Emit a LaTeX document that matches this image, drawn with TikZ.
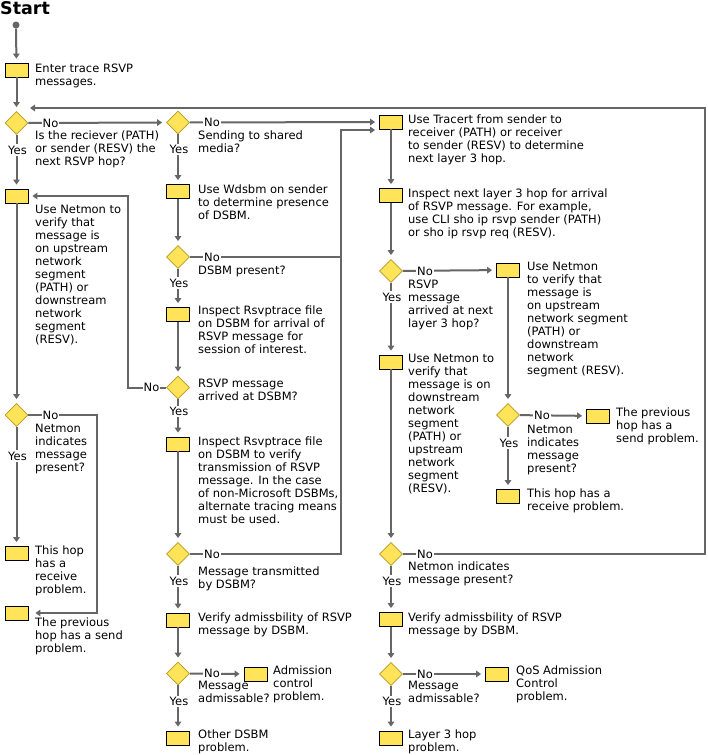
\documentclass[tikz,border=0pt]{standalone}
\usepackage{fontspec}
\setmainfont{DejaVu Sans}
\usetikzlibrary{shapes.geometric,arrows.meta}
\definecolor{boxy}{HTML}{FFE45A}
\definecolor{dborder}{HTML}{B89A20}
\definecolor{linec}{HTML}{666666}
\begin{document}
\begin{tikzpicture}[x=1pt,y=-1pt,
  box/.style={draw=black, line width=0.8pt, fill=boxy, minimum width=23pt, minimum height=14pt, inner sep=0pt},
  dia/.style={diamond, draw=dborder, line width=0.8pt, fill=boxy, minimum width=23pt, minimum height=23pt, inner sep=0pt},
  txt/.style={anchor=north west, yshift=9pt, align=left, inner sep=0pt, font=\fontsize{11.5}{13}\selectfont, execute at begin node={\rule{0pt}{9pt}}},
  lab/.style={fill=white, inner xsep=1pt, inner ysep=1.5pt, font=\fontsize{11.5}{13}\selectfont},
  conn/.style={draw=linec, line width=2pt},
  arr/.style={conn, -{Triangle[length=5pt,width=6.5pt]}, shorten >=4pt},
  dot/.style={circle, fill=linec, minimum size=7pt, inner sep=0pt},
]
\fill[white] (0,0) rectangle (708,755);
\path[use as bounding box] (0,0) rectangle (708,755);

\node[anchor=base west, inner sep=0pt, font=\bfseries\fontsize{17.5}{19}\selectfont] (title) at (0,14) {Start};
\node[dot] (start) at (16,25) {};

% column 1
\node[box] (b1) at (16.5,70) {};
\node[dia] (d1) at (16.5,123) {};
\node[box] (b2) at (16.5,196) {};
\node[dia] (d7) at (16.5,415) {};
\node[box] (b3) at (16.5,553.5) {};
\node[box] (b4) at (16.5,613) {};
% column 2
\node[dia] (d2) at (178,122.5) {};
\node[box] (b5) at (178,191.5) {};
\node[dia] (d3) at (178,257) {};
\node[box] (b6) at (178,314.5) {};
\node[dia] (d4) at (178,387.5) {};
\node[box] (b7) at (178,444) {};
\node[dia] (d5) at (178,554) {};
\node[box] (b8) at (178,620) {};
\node[dia] (d6) at (178,673.5) {};
\node[box] (b9) at (255.5,674) {};
\node[box] (b10) at (178,738) {};
% column 3
\node[box] (b11) at (391,122) {};
\node[box] (b12) at (391,195.5) {};
\node[dia] (d8) at (391,271) {};
\node[box] (b13) at (391,362) {};
\node[dia] (d9) at (391,554) {};
\node[box] (b14) at (391,619.5) {};
\node[dia] (d10) at (391,674) {};
\node[box] (b15) at (497,674) {};
\node[box] (b16) at (391,738) {};
% column 4
\node[box] (b17) at (508,270) {};
\node[dia] (d11) at (508,415) {};
\node[box] (b18) at (598,416) {};
\node[box] (b19) at (508,496.5) {};

% texts (coordinates = baseline of first line)
\node[txt] (tb1) at (35,73) {Enter trace RSVP\\messages.};
\node[txt] (td1) at (35,140) {Is the reciever (PATH)\\or sender (RESV) the\\next RSVP hop?};
\node[txt] (tb2) at (35,214) {Use Netmon to\\verify that\\message is\\on upstream\\network\\segment\\(PATH) or\\downstream\\network\\segment\\(RESV).};
\node[txt] (td7) at (35,433) {Netmon\\indicates\\message\\present?};
\node[txt] (tb3) at (35,555) {This hop\\has a\\receive\\problem.};
\node[txt] (tb4) at (35,627) {The previous\\hop has a send\\problem.};

\node[txt] (td2) at (198,140) {Sending to shared\\media?};
\node[txt] (tb5) at (198,193.5) {Use Wdsbm on sender\\to determine presence\\of DSBM.};
\node[txt] (td3) at (198,274) {DSBM present?};
\node[txt] (tb6) at (198,315) {Inspect Rsvptrace file\\on DSBM for arrival of\\RSVP message for\\session of interest.};
\node[txt] (td4) at (198,387.5) {RSVP message\\arrived at DSBM?};
\node[txt] (tb7) at (198,446) {Inspect Rsvptrace file\\on DSBM to verify\\transmission of RSVP\\message. In the case\\of non-Microsoft DSBMs,\\alternate tracing means\\must be used.};
\node[txt] (td5) at (198,575.5) {Message transmitted\\by DSBM?};
\node[txt] (tb8) at (198,621.7) {Verify admissbility of RSVP\\message by DSBM.};
\node[txt] (td6) at (198,690) {Message\\admissable?};
\node[txt] (tb9) at (273,675) {Admission\\control\\problem.};
\node[txt] (tb10) at (198,739) {Other DSBM\\problem.};

\node[txt] (tb11) at (408,124) {Use Tracert from sender to\\receiver (PATH) or receiver\\to sender (RESV) to determine\\next layer 3 hop.};
\node[txt] (tb12) at (408,197.3) {Inspect next layer 3 hop for arrival\\of RSVP message. For example,\\use CLI sho ip rsvp sender (PATH)\\or sho ip rsvp req (RESV).};
\node[txt] (td8) at (408,288.3) {RSVP\\message\\arrived at next\\layer 3 hop?};
\node[txt] (tb13) at (408,363) {Use Netmon to\\verify that\\message is on\\downstream\\network\\segment\\(PATH) or\\upstream\\network\\segment\\(RESV).};
\node[txt] (td9) at (408,571) {Netmon indicates\\message present?};
\node[txt] (tb14) at (408,621.7) {Verify admissbility of RSVP\\message by DSBM.};
\node[txt] (td10) at (408,690) {Message\\admissable?};
\node[txt] (tb15) at (516,675) {QoS Admission\\Control\\problem.};
\node[txt] (tb16) at (408,739) {Layer 3 hop\\problem.};

\node[txt] (tb17) at (527,271) {Use Netmon\\to verify that\\message is\\on upstream\\network segment\\(PATH) or\\downstream\\network\\segment (RESV).};
\node[txt] (td11) at (527,434) {Netmon\\indicates\\message\\present?};
\node[txt] (tb18) at (616,416.7) {The previous\\hop has a\\send problem.};
\node[txt] (tb19) at (527,497.3) {This hop has a\\receive problem.};

% junction coordinates
\coordinate (j1) at (341,554);
\coordinate (j2) at (341,130);
\coordinate (j3) at (341,257);
\coordinate (k1) at (128,387.5);
\coordinate (k2) at (97,415);
\coordinate (r1) at (705,554);
\coordinate (r2) at (705,108);
\coordinate (loopend) at (30,108);

% connectors
\draw[arr] (start) -- (b1);
\draw[arr] (b1) -- (d1);
\draw[arr] (d1) -- (d2);
\draw[arr] (d1) -- (b2);
\draw[arr] (b2) -- (d7);
\draw[arr] (d7) -- (b3);
\draw[arr, shorten >=7pt] (d7.east) -- (k2) |- (b4.east);

\draw[arr] (d2) -- (b11);
\draw[arr] (d2) -- (b5);
\draw[arr] (b5) -- (d3);
\draw[conn] (d3.east) -- (j3);
\draw[arr] (d3) -- (b6);
\draw[arr] (b6) -- (d4);
\draw[arr] (d4.west) -- (k1) |- (b2.east);
\draw[arr] (d4) -- (b7);
\draw[arr] (b7) -- (d5);
\draw[arr] (d5.east) -- (j1) -- (j2) -- (b11.west |- j2);
\draw[arr] (d5) -- (b8);
\draw[arr] (b8) -- (d6);
\draw[arr] (d6) -- (b9);
\draw[arr] (d6) -- (b10);

\draw[arr] (b11) -- (b12);
\draw[arr] (b12) -- (d8);
\draw[arr] (d8) -- (b17);
\draw[arr] (d8) -- (b13);
\draw[arr] (b13) -- (d9);
\draw[arr, shorten >=0pt] (d9.east) -- (r1) -- (r2) -- (loopend);
\draw[arr] (d9) -- (b14);
\draw[arr] (b14) -- (d10);
\draw[arr] (d10) -- (b15);
\draw[arr] (d10) -- (b16);

\draw[arr] (b17) -- (d11);
\draw[arr] (d11) -- (b18);
\draw[arr] (d11) -- (b19);

% labels
\node[lab] (n1) at (50.5,123) {No};
\node[lab] (y1) at (17.5,150) {Yes};
\node[lab] (n7) at (50.5,415) {No};
\node[lab] (y7) at (17.5,456) {Yes};
\node[lab] (n2) at (212,122.5) {No};
\node[lab] (y2) at (179,149.5) {Yes};
\node[lab] (n3) at (212,257) {No};
\node[lab] (y3) at (179,283) {Yes};
\node[lab] (n4) at (151.5,387.5) {No};
\node[lab] (y4) at (179,411.5) {Yes};
\node[lab] (n5) at (212,554) {No};
\node[lab] (y5) at (179,581) {Yes};
\node[lab] (n6) at (212,673.5) {No};
\node[lab] (y6) at (179,701.5) {Yes};
\node[lab] (n8) at (425,271) {No};
\node[lab] (y8) at (392,297) {Yes};
\node[lab] (n9) at (425,554) {No};
\node[lab] (y9) at (392,581) {Yes};
\node[lab] (n10) at (425,674) {No};
\node[lab] (y10) at (392,701.5) {Yes};
\node[lab] (n11) at (542,415) {No};
\node[lab] (y11) at (509,443) {Yes};
\end{tikzpicture}
\end{document}
